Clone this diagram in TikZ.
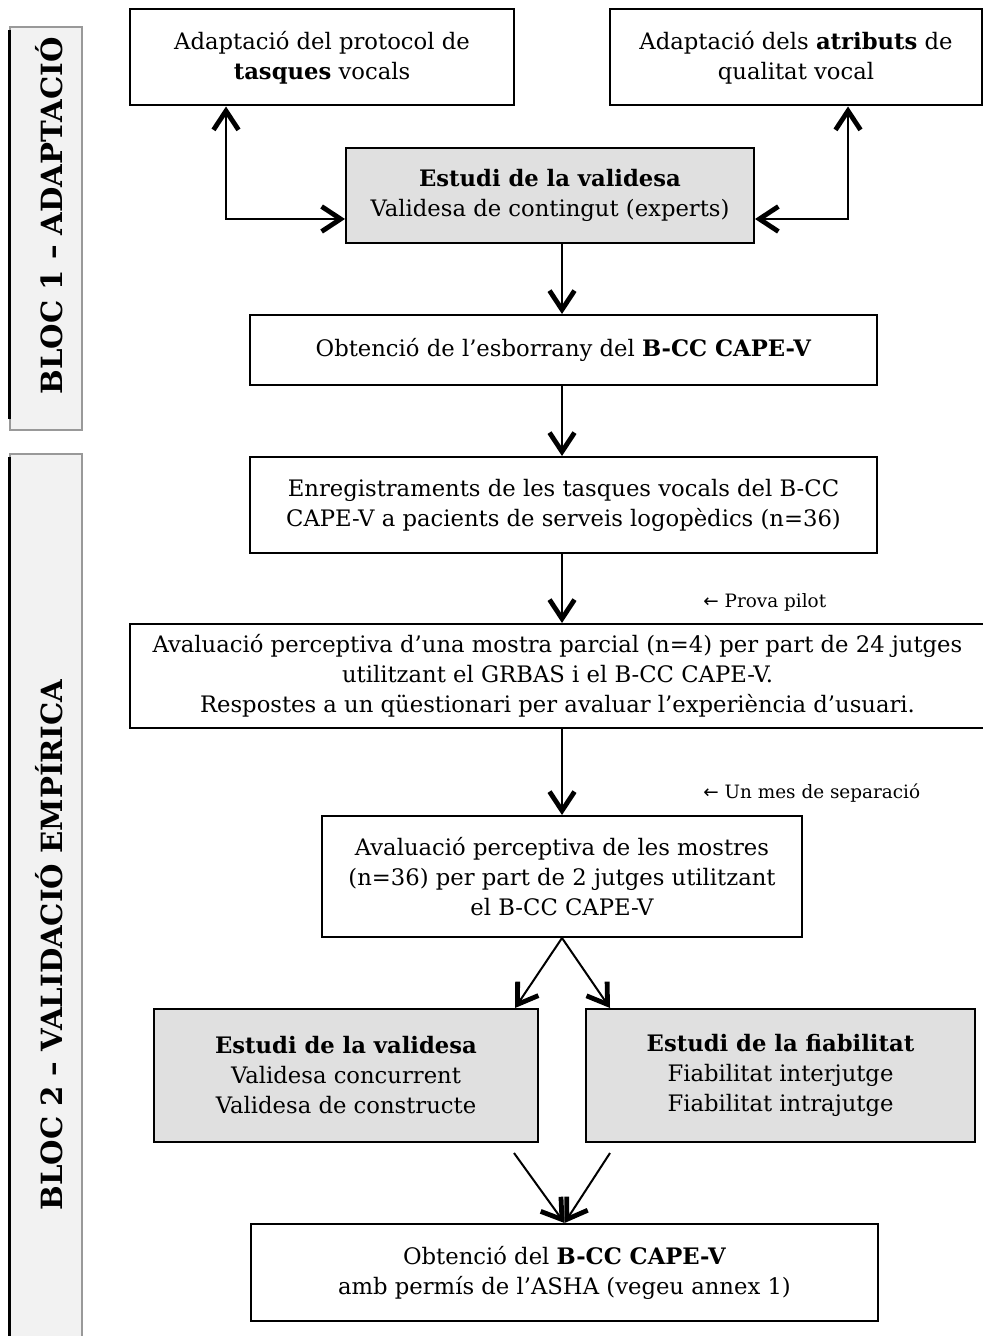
\documentclass[tikz,border=0pt]{standalone}
\usepackage{fontspec}
\setmainfont{DejaVu Serif}
\newfontfamily\symfont{DejaVu Sans}
\usetikzlibrary{arrows.meta,calc}
\tikzset{chev/.tip={Straight Barb[length=9.5pt,width=12.5pt,line width=1.4pt 1]}}
\begin{document}
\begin{tikzpicture}[x=0.5pt,y=-0.5pt,
  bw/.style={minimum width=#1*0.5pt},
  bh/.style={minimum height=#1*0.5pt},
  box/.style={draw=black, line width=1pt, fill=white, inner sep=0pt, align=center,
              font=\fontsize{11.35}{15}\selectfont},
  shaded/.style={box, fill=black!12},
  link/.style={line width=1pt, -chev},
  dlink/.style={line width=1pt, chev-chev},
  note/.style={anchor=west, inner sep=0pt, font=\fontsize{9.2}{11}\selectfont},
  bar/.style={draw=black!40, line width=0.6pt, fill=black!5, inner sep=0pt},
  baredge/.style={line width=1.6pt, black},
  bartext/.style={rotate=90, inner sep=0pt, font=\bfseries\fontsize{14.6}{16}\selectfont}
]
\useasboundingbox (0,0) rectangle (983,1336);

% block bars on the left
\node[bar, bw=72, bh=403] (bar1) at (46,228.5) {};
\draw[baredge] ([yshift=-2pt]bar1.north west) -- ([yshift=6pt]bar1.south west);
\node[bartext] (lab1) at (49,216) {BLOC 1 – ADAPTACIÓ};

\node[bar, bw=72, bh=890] (bar2) at (46,899) {};
\draw[baredge] ([yshift=-2pt]bar2.north west) -- (bar2.south west);
\node[bartext] (lab2) at (49,945) {BLOC 2 – VALIDACIÓ EMPÍRICA};

% flow boxes
\node[box, bw=384, bh=96] (A) at (322,57.5) {Adaptació del protocol de\\\textbf{tasques} vocals};
\node[box, bw=372, bh=96] (B) at (796,57.5) {Adaptació dels \textbf{atributs} de\\qualitat vocal};
\node[shaded, bw=408, bh=95] (C) at (550,195.5) {\textbf{Estudi de la validesa}\\Validesa de contingut (experts)};
\node[box, bw=627, bh=70] (D) at (563.5,350) {Obtenció de l’esborrany del \textbf{B-CC CAPE-V}};
\node[box, bw=627, bh=96] (E) at (563.5,505) {Enregistraments de les tasques vocals del B-CC\\CAPE-V a pacients de serveis logopèdics (n=36)};
\node[box, bw=855, bh=104] (F) at (557.5,676) {Avaluació perceptiva d’una mostra parcial (n=4) per part de 24 jutges\\utilitzant el GRBAS i el B-CC CAPE-V.\\Respostes a un qüestionari per avaluar l’experiència d’usuari.};
\node[box, bw=480, bh=121] (G) at (562,876.5) {Avaluació perceptiva de les mostres\\(n=36) per part de 2 jutges utilitzant\\el B-CC CAPE-V};
\node[shaded, bw=384, bh=133] (H) at (346,1075.5) {\textbf{Estudi de la validesa}\\Validesa concurrent\\Validesa de constructe};
\node[shaded, bw=389, bh=133] (I) at (780.5,1075.5) {\textbf{Estudi de la fiabilitat}\\Fiabilitat interjutge\\Fiabilitat intrajutge};
\node[box, bw=627, bh=97] (J) at (564.5,1272.5) {Obtenció del \textbf{B-CC CAPE-V}\\amb permís de l’ASHA (vegeu annex 1)};

% side notes
\node[note] (pilot) at (703,602) {{\symfont ←} Prova pilot};
\node[note] (mes) at (703,793) {{\symfont ←} Un mes de separació};

% connector guide points
\coordinate (lx) at (226,219);
\coordinate (rx) at (848,219);
\coordinate (ax) at (562,0);
\coordinate (hx) at (515,0);
\coordinate (ix) at (610,0);
\coordinate (hs) at (514,1153);
\coordinate (is) at (610,1153);

% connectors
\draw[dlink] (A.south -| lx) |- (C.west |- lx);
\draw[dlink] (C.east |- rx) -| (B.south -| rx);
\draw[link] (C.south -| ax) -- (D.north -| ax);
\draw[link] (D.south -| ax) -- (E.north -| ax);
\draw[link] (E.south -| ax) -- (F.north -| ax);
\draw[link] (F.south -| ax) -- (G.north -| ax);
\draw[link] (G.south -| ax) -- (H.north -| hx);
\draw[link] (G.south -| ax) -- (I.north -| ix);
\draw[link] (hs) -- (J.north);
\draw[link] (is) -- (J.north);
\end{tikzpicture}
\end{document}
